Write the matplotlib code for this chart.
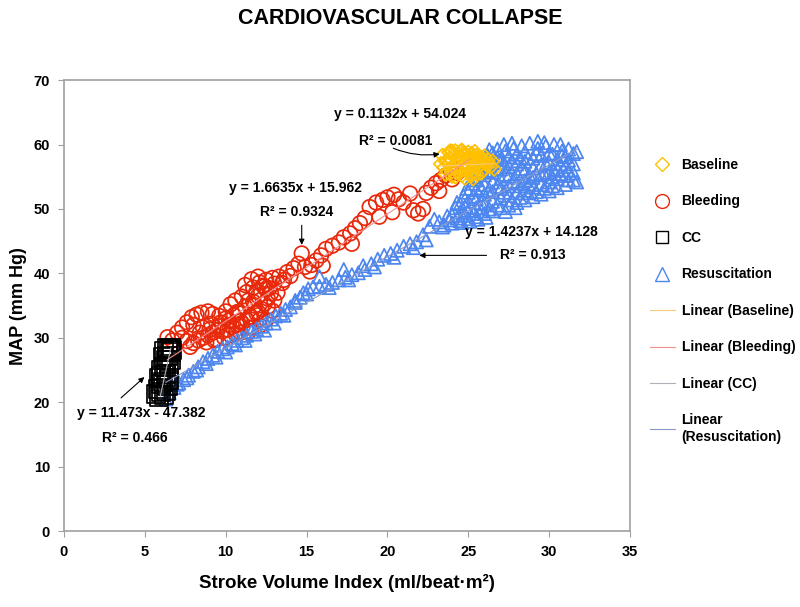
import matplotlib
matplotlib.use("Agg")
import matplotlib.pyplot as plt
from matplotlib.lines import Line2D
import numpy as np

plt.rcParams["font.family"] = ["Liberation Sans", "DejaVu Sans"]
plt.rcParams["font.weight"] = "bold"

# (SVI, MAP) pairs
baseline_pts = [
    (23.4, 58.3), (23.8, 58.8), (24.0, 58.9), (24.2, 59.0), (24.5, 58.9), (24.7, 58.7),
    (25.0, 58.8), (25.2, 58.6), (25.5, 58.3), (25.8, 58.0), (26.0, 57.6),
    (23.6, 57.4), (23.9, 57.8), (24.3, 57.9), (24.6, 58.0), (24.9, 57.9), (25.1, 57.7),
    (25.4, 57.6), (25.7, 57.3), (26.1, 56.9),
    (23.5, 56.4), (24.1, 56.9), (24.4, 57.1), (24.8, 57.0), (25.3, 56.8), (25.6, 56.4),
    (25.9, 56.0), (24.0, 55.8), (24.5, 55.9), (25.0, 55.7), (25.5, 55.5),
    (24.2, 55.0), (24.8, 54.8), (25.3, 54.7), (26.6, 56.2), (23.7, 57.6), (26.3, 57.0),
    (23.6, 55.4), (23.9, 56.2), (24.2, 56.5), (24.4, 55.5), (24.6, 56.5), (24.9, 56.3),
    (25.1, 55.3), (25.2, 56.1), (25.4, 57.0), (25.7, 56.8), (25.9, 57.5), (26.2, 57.6),
    (23.8, 57.1), (24.1, 58.3), (24.4, 58.4), (24.7, 58.3), (25.0, 58.2), (25.3, 58.1),
    (25.6, 57.9), (24.0, 55.1), (24.6, 55.2), (25.2, 55.2), (25.8, 55.6), (26.4, 56.6),
    (23.3, 57.0), (23.9, 59.0), (24.6, 59.1), (25.4, 58.9), (26.0, 58.2), (26.5, 57.4),
]

bleeding_pts = [
    (6.4, 30.1), (6.7, 29.6), (7.0, 30.8), (7.3, 31.6), (7.6, 32.4), (7.9, 33.2),
    (8.2, 33.6), (8.5, 33.9), (8.9, 34.1), (9.2, 33.7), (9.6, 33.4), (10.0, 34.1),
    (10.3, 35.2), (10.6, 35.8), (11.0, 36.4), (11.3, 37.1), (11.7, 37.8), (12.1, 38.6),
    (12.5, 39.0), (12.9, 39.3), (12.3, 38.1),
    (7.8, 28.6), (8.3, 29.6), (8.6, 30.0), (8.9, 30.4), (9.2, 30.8), (9.5, 31.2),
    (9.8, 31.0), (10.1, 31.3), (10.4, 31.7), (10.7, 32.0), (11.0, 32.3), (11.3, 32.8),
    (11.6, 33.2), (11.9, 33.8), (12.2, 34.5), (12.4, 35.3), (12.6, 36.1), (12.8, 36.9),
    (12.7, 37.7), (12.0, 36.5), (11.7, 35.6), (11.2, 34.8), (10.8, 33.9), (10.2, 32.7),
    (9.7, 32.4), (9.1, 32.2), (8.6, 31.6), (8.4, 30.8), (10.6, 30.6), (11.5, 31.6),
    (12.1, 32.8), (11.4, 30.9), (9.4, 29.8), (10.5, 33.5), (11.8, 35.0), (12.5, 37.5),
    (8.0, 29.2), (8.8, 29.3), (9.3, 29.6), (9.9, 30.0), (10.3, 30.4), (10.9, 30.8),
    (11.6, 31.5), (12.1, 31.9), (12.5, 32.8), (12.9, 34.2), (9.0, 31.3), (9.6, 31.8),
    (10.2, 32.0), (10.9, 32.6), (11.5, 33.3), (12.0, 34.0), (12.6, 34.8), (13.0, 35.8),
    (13.2, 37.0), (13.0, 38.4), (10.0, 33.0), (10.7, 34.0), (11.4, 35.8), (11.9, 37.2),
    (12.4, 38.0), (12.0, 39.5), (11.6, 39.1), (11.2, 38.2), (13.6, 39.0), (14.0, 39.6),
    (8.0, 32.0), (7.3, 30.0), (7.6, 29.5),
    (13.5, 38.5), (13.3, 39.5), (13.8, 40.2), (14.2, 40.8), (14.5, 41.5), (14.9, 41.0),
    (15.3, 41.3), (15.6, 42.0), (15.9, 42.8), (16.2, 43.8), (16.6, 44.3), (17.0, 44.8),
    (17.3, 45.6), (17.7, 46.2), (18.0, 47.0), (18.3, 47.8), (18.6, 48.6), (18.9, 50.3),
    (19.3, 51.0), (19.7, 51.4), (20.0, 51.8), (20.4, 52.2), (20.7, 51.5), (21.0, 51.0),
    (21.4, 52.4), (21.6, 49.8), (21.9, 49.3), (22.2, 50.0), (22.4, 52.5), (22.7, 53.3),
    (23.0, 54.0), (23.3, 54.5), (23.6, 55.2), (23.9, 55.9), (24.3, 55.6), (24.7, 57.1),
    (25.1, 56.8), (24.0, 54.6), (23.2, 52.8), (20.3, 49.5), (19.5, 48.8), (17.8, 44.6),
    (16.0, 41.2), (15.2, 40.3), (14.7, 43.1),
]

cc_pts = [
    (6.5, 28.2), (6.6, 27.8), (6.4, 27.2), (6.3, 26.6), (6.5, 26.0), (6.2, 25.5),
    (6.0, 25.0), (6.3, 24.4), (5.9, 23.8), (6.1, 23.2), (6.4, 22.6), (5.8, 22.0),
    (6.0, 21.6), (5.7, 21.3), (6.2, 21.1), (5.9, 20.9), (6.6, 28.4), (6.2, 28.0),
    (6.0, 22.8), (6.3, 21.8), (6.7, 28.1), (6.4, 28.4), (6.1, 27.0), (6.6, 26.5),
    (6.0, 24.0), (6.5, 23.5),
]

resus_pts = [
    (6.3, 20.5), (6.5, 21.5), (6.8, 22.3), (7.1, 23.0), (7.4, 23.5), (7.7, 24.2),
    (8.0, 24.8), (8.3, 25.5), (8.6, 26.3), (8.9, 26.8), (9.2, 27.3), (9.5, 27.9),
    (9.8, 28.3), (10.1, 28.6), (10.4, 29.1), (10.7, 29.6), (11.0, 30.0), (11.3, 30.4),
    (11.6, 31.0), (11.9, 31.4), (12.2, 31.8), (12.5, 32.3), (12.8, 32.9), (13.1, 33.4),
    (13.4, 33.8), (13.7, 34.4), (14.0, 34.8), (14.3, 35.5), (14.6, 36.3), (14.8, 37.0),
    (15.1, 37.6), (15.4, 37.9), (15.8, 38.0), (16.2, 38.3), (16.6, 38.6), (17.0, 39.0),
    (17.4, 39.4), (17.8, 39.8), (18.2, 40.1), (18.6, 40.6), (19.0, 41.5), (19.4, 42.2),
    (19.8, 42.8), (20.2, 43.1), (20.6, 43.6), (21.0, 44.2), (21.4, 44.6), (21.8, 44.9),
    (22.2, 46.0), (22.6, 47.3), (22.9, 48.4), (23.2, 48.0), (23.5, 47.5), (23.8, 48.3),
    (14.3, 35.8), (15.8, 39.5), (17.3, 40.6), (18.5, 41.2),
    (7.0, 22.8), (7.6, 23.8), (8.2, 25.0), (8.8, 26.0), (9.4, 27.0), (10.0, 27.8),
    (10.6, 28.9), (11.2, 29.6), (11.8, 30.6), (12.4, 31.2), (13.0, 32.3), (13.6, 33.5),
    (15.0, 36.8), (16.4, 37.8), (17.6, 39.0), (19.2, 41.0), (20.4, 42.5), (21.6, 44.0),
    (22.4, 45.2),
    (24.0, 47.8), (24.0, 49.0), (24.2, 50.2),
    (24.5, 48.2), (24.5, 49.5), (24.5, 50.8), (24.7, 52.0),
    (25.0, 48.5), (25.0, 49.8), (25.0, 51.2), (25.0, 52.6), (25.2, 54.0),
    (25.5, 48.8), (25.5, 50.2), (25.5, 51.6), (25.5, 53.0), (25.5, 54.5), (25.7, 56.0),
    (26.0, 49.3), (26.0, 50.8), (26.0, 52.3), (26.0, 53.8), (26.0, 55.3), (26.0, 56.8),
    (26.2, 58.3), (26.5, 49.7), (26.5, 51.2), (26.5, 52.7), (26.5, 54.2), (26.5, 55.7),
    (26.5, 57.2), (26.5, 58.7), (26.8, 59.3), (26.8, 53.5),
    (27.0, 50.2), (27.0, 51.7), (27.0, 53.2), (27.0, 54.7), (27.0, 56.2), (27.0, 57.7),
    (27.3, 59.0), (27.3, 55.4), (27.5, 50.6), (27.5, 52.1), (27.5, 53.6), (27.5, 55.1),
    (27.5, 56.6), (27.5, 58.1), (27.8, 59.4), (27.8, 54.3),
    (28.0, 51.0), (28.0, 52.5), (28.0, 54.0), (28.0, 55.5), (28.0, 57.0), (28.0, 58.5),
    (28.3, 59.8), (28.3, 56.3), (28.5, 51.4), (28.5, 52.9), (28.5, 54.4), (28.5, 55.9),
    (28.5, 57.4), (28.5, 58.9), (28.8, 60.2), (28.8, 55.1),
    (29.0, 51.9), (29.0, 53.4), (29.0, 54.9), (29.0, 56.4), (29.0, 57.9), (29.3, 59.4),
    (29.3, 60.5), (29.5, 52.3), (29.5, 53.8), (29.5, 55.3), (29.5, 56.8), (29.5, 58.3),
    (29.8, 59.8), (29.8, 57.0),
    (30.0, 52.8), (30.0, 54.2), (30.0, 55.7), (30.0, 57.2), (30.0, 58.7), (30.3, 60.0),
    (30.3, 56.0), (30.5, 53.3), (30.5, 54.7), (30.5, 56.2), (30.5, 57.7), (30.8, 59.0),
    (30.8, 58.3), (31.0, 53.8), (31.0, 55.2), (31.0, 56.6), (31.0, 58.1), (31.2, 59.3),
    (31.5, 54.5), (31.5, 55.6), (31.5, 57.0), (31.5, 58.6),
    (23.4, 47.2), (23.7, 48.9), (24.3, 48.6), (24.3, 51.0), (24.8, 49.0), (24.8, 50.4),
    (24.9, 53.2), (25.3, 49.3), (25.3, 52.0), (25.3, 55.0), (25.8, 49.7), (25.8, 51.0),
    (25.8, 53.3), (25.8, 57.2), (26.3, 50.0), (26.3, 53.0), (26.3, 56.0), (26.3, 59.2),
    (26.8, 50.6), (26.8, 56.3), (26.8, 58.0), (27.2, 52.6), (27.2, 57.2), (27.2, 60.0),
    (27.7, 51.4), (27.7, 57.5), (27.7, 60.2), (28.2, 51.8), (28.2, 53.6), (28.2, 58.0),
    (28.7, 52.5), (28.7, 53.9), (28.7, 57.9), (29.2, 52.7), (29.2, 55.5), (29.2, 58.6),
    (29.7, 53.2), (29.7, 55.5), (29.7, 60.3), (30.2, 53.6), (30.2, 55.0), (30.2, 58.5),
    (30.7, 55.5), (30.7, 57.0), (30.7, 60.0), (31.2, 54.5), (31.2, 56.0), (31.2, 57.6),
    (31.7, 54.2), (31.7, 58.9), (24.6, 47.9), (25.1, 48.1), (25.6, 48.4), (26.1, 48.7),
    (27.3, 49.6), (27.9, 50.2),
]

# Excel trendline coefficients (slope, intercept)
fit_baseline = (0.1132, 54.024)
fit_bleeding = (1.6635, 15.962)
fit_cc = (11.473, -47.382)
fit_resus = (1.4237, 14.128)

YELLOW = "#FFC000"
RED = "#E8290B"
BLUE = "#4C86EE"

fig = plt.figure(figsize=(8, 6.07), dpi=100)
ax = fig.add_axes([0.08, 0.125, 0.7075, 0.743])


def scatter(pts, **kw):
    xs, ys = zip(*pts)
    return ax.scatter(xs, ys, facecolors="none", linewidths=1.25, **kw)


scatter(baseline_pts, marker="D", s=50, edgecolors=YELLOW, zorder=3)
scatter(bleeding_pts, marker="o", s=110, edgecolors=RED, zorder=2)
scatter(cc_pts, marker="s", s=170, edgecolors="black", zorder=3)
scatter(resus_pts, marker="^", s=90, edgecolors=BLUE, zorder=2)


def trend(pts, fit, color, by_y=False):
    xs = np.array([p[0] for p in pts])
    ys = np.array([p[1] for p in pts])
    if by_y:
        # steep fit: keep the line within the vertical spread of the points
        xx = (np.array([ys.min(), ys.max()]) - fit[1]) / fit[0]
    else:
        xx = np.array([xs.min(), xs.max()])
    line, = ax.plot(xx, fit[0] * xx + fit[1], color=color, lw=0.8, zorder=4)
    return line


l_base = trend(baseline_pts, fit_baseline, "#F7C97A")
l_bleed = trend(bleeding_pts, fit_bleeding, "#F29090")
l_cc = trend(cc_pts, fit_cc, "#B0B0B8", by_y=True)
l_res = trend(resus_pts, fit_resus, "#8C98C8")

ax.set_xlim(0, 35)
ax.set_ylim(0, 70)
ax.set_xticks(range(0, 36, 5))
ax.set_yticks(range(0, 71, 10))
for sp in ax.spines.values():
    sp.set_color("#A0A0A0")
    sp.set_linewidth(1.2)
ax.tick_params(direction="out", length=4, color="#A0A0A0", labelsize=10.5, pad=6)
for lab in ax.get_xticklabels() + ax.get_yticklabels():
    lab.set_fontweight("bold")

ax.set_xlabel("Stroke Volume Index (ml/beat·m²)", fontsize=13.5,
              fontweight="bold", labelpad=11)
ax.set_ylabel("MAP (mm Hg)", fontsize=13, fontweight="bold", labelpad=5)
fig.text(0.5, 0.97, "CARDIOVASCULAR COLLAPSE", ha="center", va="center",
         fontsize=15.5, fontweight="bold")

# trendline equation labels
kw = dict(fontsize=10, fontweight="bold", ha="center", va="center")
arrow = dict(arrowstyle="-|>", color="black", lw=0.8, mutation_scale=8)
ax.text(20.8, 64.7, "y = 0.1132x + 54.024", **kw)
ax.text(20.5, 60.5, "R² = 0.0081", **kw)
ax.annotate("", xy=(23.4, 58.6), xytext=(20.2, 59.6),
            arrowprops=dict(arrow, connectionstyle="arc3,rad=0.15"))
ax.text(14.3, 53.3, "y = 1.6635x + 15.962", **kw)
ax.text(14.4, 49.5, "R² = 0.9324", **kw)
ax.annotate("", xy=(14.7, 44.0), xytext=(14.7, 47.9), arrowprops=arrow)
ax.text(28.9, 46.5, "y = 1.4237x + 14.128", **kw)
ax.text(29.0, 42.8, "R² = 0.913", **kw)
ax.annotate("", xy=(21.8, 42.8), xytext=(26.3, 42.8), arrowprops=arrow)
ax.text(4.75, 18.3, "y = 11.473x - 47.382", **kw)
ax.text(4.4, 14.5, "R² = 0.466", **kw)
ax.annotate("", xy=(5.1, 24.2), xytext=(3.4, 20.4), arrowprops=arrow)

h_base = Line2D([], [], ls="none", marker="D", ms=7, mfc="none", mec=YELLOW)
h_bleed = Line2D([], [], ls="none", marker="o", ms=10, mfc="none", mec=RED)
h_cc = Line2D([], [], ls="none", marker="s", ms=9, mfc="none", mec="black")
h_res = Line2D([], [], ls="none", marker="^", ms=10, mfc="none", mec=BLUE)
leg = ax.legend([h_base, h_bleed, h_cc, h_res, l_base, l_bleed, l_cc, l_res],
                ["Baseline", "Bleeding", "CC", "Resuscitation", "Linear (Baseline)",
                 "Linear (Bleeding)", "Linear (CC)", "Linear\n(Resuscitation)"],
                loc="upper left", bbox_to_anchor=(0.805, 0.749),
                bbox_transform=fig.transFigure, frameon=False, fontsize=10,
                labelspacing=1.62, handlelength=1.8, handletextpad=0.5,
                borderaxespad=0)
for t in leg.get_texts():
    t.set_fontweight("bold")

fig.savefig("out.png", dpi=100)
